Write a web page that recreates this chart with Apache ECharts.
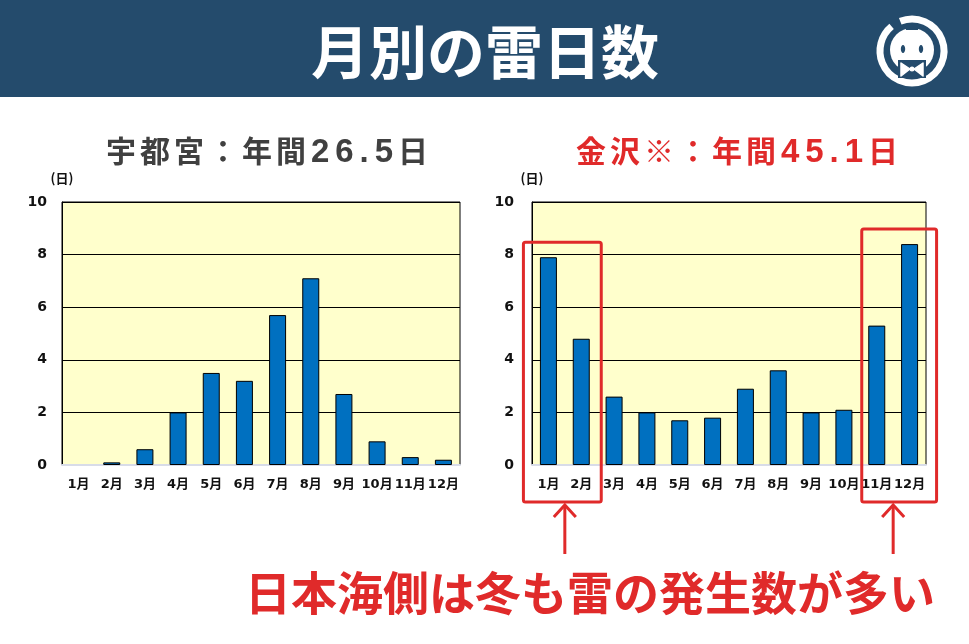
<!DOCTYPE html>
<html><head><meta charset="utf-8">
<script src="https://cdn.jsdelivr.net/npm/echarts@6/dist/echarts.min.js"></script>
<style>html,body{margin:0;padding:0;background:#fff}#c{width:969px;height:644px}</style>
</head><body><div id="c"></div>
<script>
var months = ['1月','2月','3月','4月','5月','6月','7月','8月','9月','10月','11月','12月'];
var utsunomiya = [0, 0.1, 0.6, 2.0, 3.5, 3.2, 5.7, 7.1, 2.7, 0.9, 0.3, 0.2];
var kanazawa = [7.9, 4.8, 2.6, 2.0, 1.7, 1.8, 2.9, 3.6, 2.0, 2.1, 5.3, 8.4];
var yMin = 0, yMax = 10, yStep = 2;
var headerTitle = '月別の雷日数';
var leftTitle = '宇都宮：年間26.5日';
var rightTitle = '金沢※：年間45.1日';
var yUnit = '(日)';
var message = '日本海側は冬も雷の発生数が多い';
var highlightGroups = [[0, 1], [10, 11]];

var RED = '#E02A2A';
var CJK = '"Noto Sans CJK JP", sans-serif';
var NUM = '"DejaVu Sans", "Noto Sans CJK JP", sans-serif';

var chart = echarts.init(document.getElementById('c'));

function xAx(i) {
  return {
    type: 'category', gridIndex: i, data: months,
    axisTick: { show: false },
    axisLine: { show: true, lineStyle: { color: '#d8dce8', width: 2 } },
    axisLabel: { margin: 13, color: '#111', fontWeight: 'bold', fontSize: 13, fontFamily: NUM, interval: 0 }
  };
}
function yAx(i, m) {
  return {
    type: 'value', gridIndex: i, min: yMin, max: yMax, interval: yStep,
    name: yUnit, nameLocation: 'end', nameGap: 17,
    nameTextStyle: { color: '#111', fontWeight: 'bold', fontSize: 13, fontFamily: CJK, align: 'center' },
    axisLine: { show: true, lineStyle: { color: '#000', width: 1 } },
    axisTick: { show: false },
    splitLine: { show: true, lineStyle: { color: '#000', width: 1 } },
    axisLabel: { margin: m, color: '#111', fontWeight: 'bold', fontSize: 14, fontFamily: NUM }
  };
}
function bar(i, data) {
  return {
    type: 'bar', xAxisIndex: i, yAxisIndex: i, barWidth: 17,
    data: data.map(function (v) { return v === 0 ? { value: v, itemStyle: { borderWidth: 0, opacity: 0 } } : v; }),
    itemStyle: { color: '#0070C0', borderColor: '#000', borderWidth: 1 }
  };
}

chart.setOption({
  animation: false,
  grid: [
    { left: 62, top: 202, width: 398, height: 263, show: true, backgroundColor: '#FFFFCC', borderColor: '#000', borderWidth: 1 },
    { left: 532, top: 202, width: 394, height: 263, show: true, backgroundColor: '#FFFFCC', borderColor: '#000', borderWidth: 1 }
  ],
  xAxis: [xAx(0), xAx(1)],
  yAxis: [yAx(0, 15), yAx(1, 18)],
  series: [bar(0, utsunomiya), bar(1, kanazawa)]
});

function logo(cx, cy) {
  var bg = '#244B6C';
  return [
    { type: 'arc', shape: { cx: cx, cy: cy, r: 32, startAngle: -Math.PI * 0.62, endAngle: Math.PI * 1.28 },
      style: { stroke: '#fff', lineWidth: 7, fill: null } },
    { type: 'circle', shape: { cx: cx, cy: cy - 1, r: 22 }, style: { fill: '#fff' } },
    { type: 'rect', shape: { x: cx - 6, y: cy - 27, width: 12, height: 6 }, style: { fill: bg } },
    { type: 'ellipse', shape: { cx: cx - 9, cy: cy - 2, rx: 2.2, ry: 4 }, style: { fill: bg } },
    { type: 'ellipse', shape: { cx: cx + 9, cy: cy - 2, rx: 2.2, ry: 4 }, style: { fill: bg } },
    { type: 'polygon', shape: { points: [[cx - 14, cy + 9], [cx + 14, cy + 9], [cx + 14, cy + 27], [cx - 14, cy + 27]] }, style: { fill: bg } },
    { type: 'polygon', shape: { points: [[cx - 11, cy + 12], [cx - 2, cy + 18], [cx - 11, cy + 25]] }, style: { fill: '#fff', stroke: '#fff', lineWidth: 1.5, lineJoin: 'round' } },
    { type: 'polygon', shape: { points: [[cx + 11, cy + 12], [cx + 2, cy + 18], [cx + 11, cy + 25]] }, style: { fill: '#fff', stroke: '#fff', lineWidth: 1.5, lineJoin: 'round' } },
    { type: 'circle', shape: { cx: cx, cy: cy + 18, r: 2.5 }, style: { fill: '#fff' } }
  ];
}

// spaced title: each character as a rich token so it gets the reference's letter spacing
function titleText(x, str, color) {
  var s = '';
  for (var i = 0; i < str.length; i++) {
    var ch = str[i];
    s += (/[0-9.]/.test(ch) ? '{n|' : '{a|') + ch + '}';
  }
  return { type: 'text', x: x, y: 151, style: {
    text: s, textAlign: 'center', textVerticalAlign: 'middle',
    rich: {
      a: { fill: color, fontSize: 30, fontWeight: 'bold', fontFamily: CJK, lineHeight: 40, height: 40, padding: [0, 2, 0, 2], verticalAlign: 'middle' },
      n: { fill: color, fontSize: 33, fontWeight: 'bold', fontFamily: '"Liberation Sans", Arial, sans-serif', lineHeight: 40, height: 40, padding: [3, 3, 0, 3], verticalAlign: 'middle' }
    } } };
}

var g = [
  { type: 'rect', shape: { x: 0, y: 0, width: 969, height: 97 }, style: { fill: '#244B6C' }, z: -10 },
  { type: 'text', x: 485, y: 52, style: { text: headerTitle, fill: '#fff', font: 'bold 58px ' + CJK, textAlign: 'center', textVerticalAlign: 'middle' } },
  titleText(267, leftTitle, '#404040'),
  titleText(737, rightTitle, RED),
  { type: 'text', x: 590, y: 593, style: { text: message, fill: RED, font: 'bold 46px ' + CJK, textAlign: 'center', textVerticalAlign: 'middle' } }
].concat(logo(912, 51));

// highlight boxes and arrows computed from the axes
var boxPad = [[-25, 20], [-15, 27]];
highlightGroups.forEach(function (grp, k) {
  var a = chart.convertToPixel({ xAxisIndex: 1, yAxisIndex: 1 }, [grp[0], 0]);
  var b = chart.convertToPixel({ xAxisIndex: 1, yAxisIndex: 1 }, [grp[grp.length - 1], 0]);
  var mx = Math.max.apply(null, grp.map(function (i) { return kanazawa[i]; }));
  var topPx = chart.convertToPixel({ xAxisIndex: 1, yAxisIndex: 1 }, [grp[0], mx])[1] - 15;
  var x1 = a[0] + boxPad[k][0], x2 = b[0] + boxPad[k][1];
  var bottom = a[1] + 37;
  g.push({ type: 'rect', shape: { x: x1, y: topPx, width: x2 - x1, height: bottom - topPx, r: 2 },
    style: { fill: null, stroke: RED, lineWidth: 3 }, z: 50 });
  var ax = (a[0] + b[0]) / 2;
  var tip = bottom + 2;
  g.push({ type: 'line', shape: { x1: ax, y1: tip + 1, x2: ax, y2: tip + 50 }, style: { stroke: RED, lineWidth: 3 }, z: 50 });
  g.push({ type: 'polyline', shape: { points: [[ax - 11, tip + 13], [ax, tip + 1], [ax + 11, tip + 13]] }, style: { stroke: RED, lineWidth: 3, fill: null }, z: 50 });
});

chart.setOption({ graphic: g });
</script></body></html>
